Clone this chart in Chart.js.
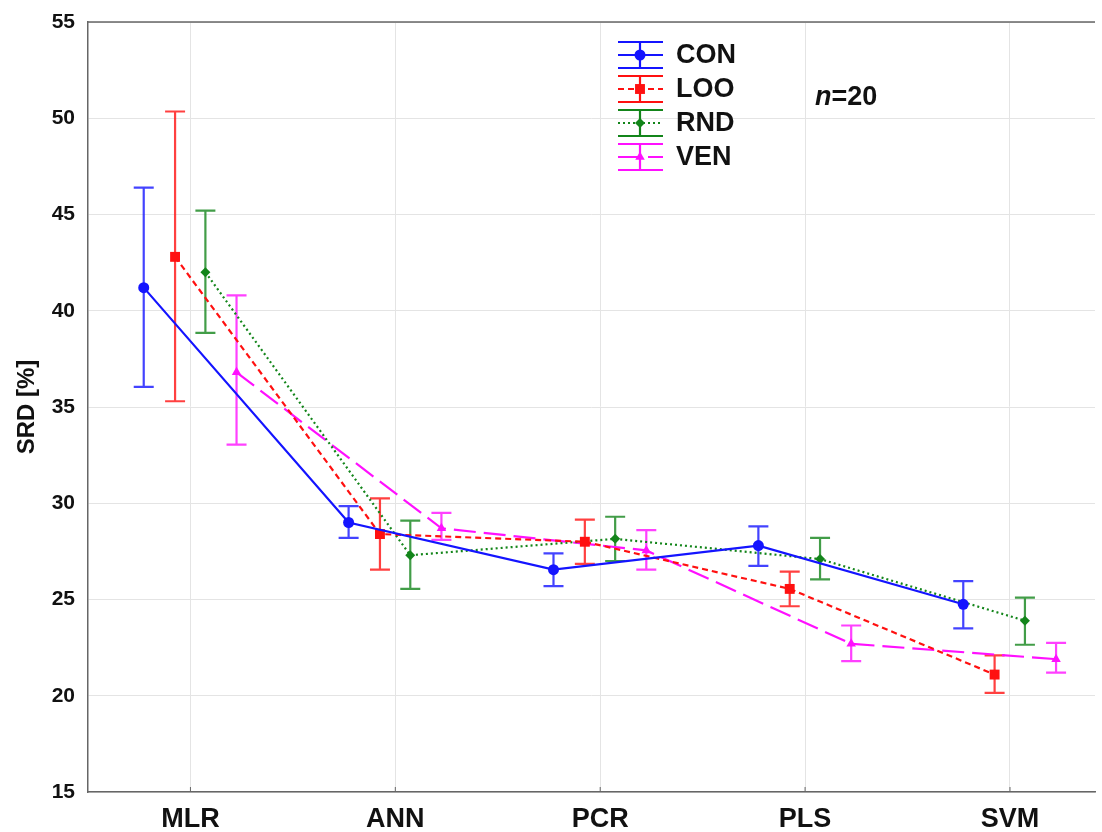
<!DOCTYPE html>
<html>
<head>
<meta charset="utf-8">
<script src="https://cdn.jsdelivr.net/npm/chart.js@4/dist/chart.umd.min.js"></script>
<style>
  html, body { margin: 0; padding: 0; background: #fff; }
  #wrap { width: 1102px; height: 832px; }
</style>
</head>
<body>
<div id="wrap"><canvas id="myChart" width="1102" height="832"></canvas></div>
<script>
const categories = ['MLR', 'ANN', 'PCR', 'PLS', 'SVM'];
const yTicks = [15, 20, 25, 30, 35, 40, 45, 50, 55];

const conMean = [41.2, 29.0, 26.55, 27.8, 24.75];
const conLow = [36.05, 28.2, 25.7, 26.75, 23.5];
const conHigh = [46.4, 29.85, 27.4, 28.8, 25.95];

const looMean = [42.8, 28.4, 28.0, 25.55, 21.1];
const looLow = [35.3, 26.55, 26.85, 24.65, 20.15];
const looHigh = [50.35, 30.25, 29.15, 26.45, 22.1];

const rndMean = [42.0, 27.3, 28.15, 27.1, 23.9];
const rndLow = [38.85, 25.55, 27.0, 26.05, 22.65];
const rndHigh = [45.2, 29.1, 29.3, 28.2, 25.1];

const venMean = [36.8, 28.7, 27.55, 22.7, 21.9];
const venLow = [33.05, 28.1, 26.55, 21.8, 21.2];
const venHigh = [40.8, 29.5, 28.6, 23.65, 22.75];

// horizontal shift of each group inside a category
const offsets = [-0.228, -0.075, 0.073, 0.225];

const series = [
  { name: 'CON', mean: conMean, low: conLow, high: conHigh, color: '#1414ff', dash: [], style: 'circle', radius: 5.5 },
  { name: 'LOO', mean: looMean, low: looLow, high: looHigh, color: '#ff1010', dash: [6, 4], style: 'rect', radius: 7 },
  { name: 'RND', mean: rndMean, low: rndLow, high: rndHigh, color: '#13851a', dash: [2, 3], style: 'rectRot', radius: 5 },
  { name: 'VEN', mean: venMean, low: venLow, high: venHigh, color: '#ff10ff', dash: [22, 8], style: 'triangle', radius: 5.5 }
];

const datasets = series.map((s, k) => ({
  label: s.name,
  data: s.mean.map((v, i) => ({ x: i + offsets[k], y: v })),
  errLow: s.low,
  errHigh: s.high,
  borderColor: s.color,
  backgroundColor: s.color,
  borderWidth: 2.2,
  borderDash: s.dash,
  pointStyle: s.style,
  pointRadius: s.radius,
  pointBorderWidth: 0,
  pointHoverRadius: s.radius,
  tension: 0,
  fill: false
}));

// error bars with caps, drawn through the scales
const errorBars = {
  id: 'errorBars',
  beforeDatasetsDraw(chart) {
    const ctx = chart.ctx;
    const yScale = chart.scales.y;
    chart.data.datasets.forEach((ds, i) => {
      const meta = chart.getDatasetMeta(i);
      ctx.save();
      ctx.strokeStyle = ds.borderColor;
      ctx.globalAlpha = 0.8;
      ctx.lineWidth = 2.2;
      ctx.setLineDash([]);
      meta.data.forEach((pt, j) => {
        const x = pt.x;
        const yl = yScale.getPixelForValue(ds.errLow[j]);
        const yh = yScale.getPixelForValue(ds.errHigh[j]);
        ctx.beginPath();
        ctx.moveTo(x, yl); ctx.lineTo(x, yh);
        ctx.moveTo(x - 10, yl); ctx.lineTo(x + 10, yl);
        ctx.moveTo(x - 10, yh); ctx.lineTo(x + 10, yh);
        ctx.stroke();
      });
      ctx.restore();
    });
  },
  afterDraw(chart) {
    const ctx = chart.ctx;
    const a = chart.chartArea;
    ctx.save();
    // top frame line
    ctx.strokeStyle = '#666';
    ctx.lineWidth = 1.5;
    ctx.beginPath();
    ctx.moveTo(a.left, a.top);
    ctx.lineTo(a.right, a.top);
    ctx.stroke();

    // small inward ticks on the x axis
    ctx.lineWidth = 1;
    categories.forEach((c, i) => {
      const x = chart.scales.x.getPixelForValue(i);
      ctx.beginPath();
      ctx.moveTo(x, a.bottom);
      ctx.lineTo(x, a.bottom - 5);
      ctx.stroke();
    });

    // legend with error-bar symbols
    const x0 = 618, x1 = 663, xc = 640;
    chart.data.datasets.forEach((ds, i) => {
      const y = 55 + i * 34;
      ctx.strokeStyle = ds.borderColor;
      ctx.lineWidth = 2.2;
      ctx.setLineDash([]);
      ctx.beginPath();
      ctx.moveTo(x0, y - 13); ctx.lineTo(x1, y - 13);
      ctx.moveTo(x0, y + 13); ctx.lineTo(x1, y + 13);
      ctx.moveTo(xc, y - 13); ctx.lineTo(xc, y + 13);
      ctx.stroke();
      ctx.setLineDash(ds.borderDash);
      ctx.beginPath();
      ctx.moveTo(x0, y); ctx.lineTo(x1, y);
      ctx.stroke();
      ctx.setLineDash([]);
      ctx.fillStyle = ds.backgroundColor;
      Chart.helpers.drawPoint(ctx, { pointStyle: ds.pointStyle, radius: ds.pointRadius, borderWidth: 0 }, xc, y);
      ctx.fillStyle = '#111';
      ctx.font = 'bold 27px "Liberation Sans", Arial, sans-serif';
      ctx.textBaseline = 'middle';
      ctx.textAlign = 'left';
      ctx.fillText(ds.label, 676, y + 1);
    });

    // n=20 note
    ctx.fillStyle = '#111';
    ctx.textBaseline = 'middle';
    ctx.font = 'italic bold 27px "Liberation Sans", Arial, sans-serif';
    ctx.fillText('n', 815, 98);
    const w = ctx.measureText('n').width;
    ctx.font = 'bold 27px "Liberation Sans", Arial, sans-serif';
    ctx.fillText('=20', 815 + w, 98);
    ctx.restore();
  }
};

new Chart('myChart', {
  type: 'line',
  data: { datasets: datasets },
  options: {
    responsive: false,
    animation: false,
    layout: { padding: { top: 22, right: 2, left: 0, bottom: 0 } },
    plugins: {
      legend: { display: false },
      tooltip: { enabled: false },
      title: { display: false }
    },
    scales: {
      x: {
        type: 'linear',
        min: -0.5,
        max: 4.415,
        afterBuildTicks: scale => { scale.ticks = categories.map((c, i) => ({ value: i })); },
        afterFit: scale => { scale.height = 40; scale.paddingLeft = 0; scale.paddingRight = 0; },
        ticks: {
          callback: v => categories[v],
          color: '#111',
          font: { family: '"Liberation Sans", Arial, sans-serif', size: 27, weight: 'bold' },
          padding: 11,
          maxRotation: 0
        },
        grid: { color: '#e4e4e4', lineWidth: 1, drawTicks: false },
        border: { color: '#666', width: 1.5 }
      },
      y: {
        min: 15,
        max: 55,
        afterBuildTicks: scale => { scale.ticks = yTicks.map(v => ({ value: v })); },
        afterFit: scale => { scale.width = 88; scale.paddingTop = 0; scale.paddingBottom = 0; },
        ticks: {
          color: '#111',
          font: { family: '"Liberation Sans", Arial, sans-serif', size: 21, weight: 'bold' },
          padding: 13
        },
        title: {
          display: true,
          text: 'SRD [%]',
          color: '#111',
          font: { family: '"Liberation Sans", Arial, sans-serif', size: 24, weight: 'bold' },
          padding: { top: 13, bottom: 0 }
        },
        grid: { color: '#e4e4e4', lineWidth: 1, drawTicks: false },
        border: { color: '#666', width: 1.5 }
      }
    }
  },
  plugins: [errorBars]
});
</script>
</body>
</html>
